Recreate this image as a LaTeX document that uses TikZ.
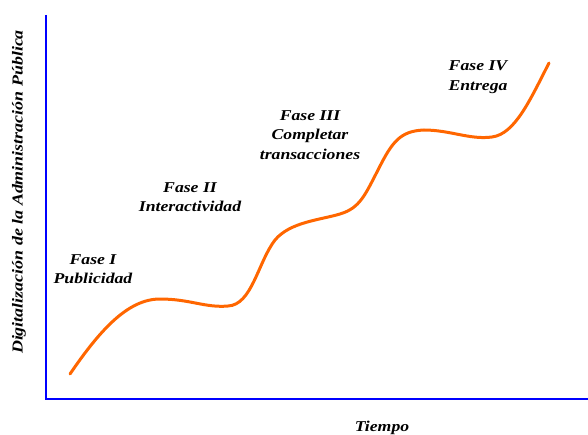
\documentclass[tikz,border=0pt]{standalone}
\usepackage{fontspec}
\setmainfont[FakeStretch=1.18]{Liberation Serif}
\definecolor{curveorange}{RGB}{255,102,0}
\begin{document}
\begin{tikzpicture}[x=1pt,y=-1pt,
  axis/.style={draw=blue,line width=2.8pt,line join=miter},
  curve/.style={draw=curveorange,line width=3pt,line cap=round},
  phase/.style={font=\fontsize{15}{19.5}\selectfont\bfseries\itshape,align=center,inner sep=0pt},
  axislabel/.style={font=\fontsize{15}{16}\selectfont\bfseries\itshape,inner sep=0pt}]
  \useasboundingbox (0,0) rectangle (588,435);
  % axes
  \coordinate (top) at (46,15);
  \coordinate (origin) at (46,399);
  \coordinate (right) at (588,399);
  \draw[axis] (top) -- (origin) -- (right);
  % growth curve in four stages
  \draw[curve] (70,374)
    .. controls (100,330) and (128,299) .. (160,299)
    .. controls (190,299) and (205,308) .. (228,306)
    .. controls (252,305) and (258,262) .. (275,240)
    .. controls (290,222) and (320,220) .. (340,214)
    .. controls (360,208) and (365,195) .. (378,170)
    .. controls (392,142) and (400,131) .. (424,130)
    .. controls (450,130) and (470,140) .. (492,137)
    .. controls (515,134) and (530,100) .. (549,63);
  % phase labels
  \node[phase] (f1) at (93,269) {Fase I\\Publicidad};
  \node[phase] (f2) at (190,197) {Fase II\\Interactividad};
  \node[phase] (f3) at (310,135) {Fase III\\Completar\\transacciones};
  \node[phase] (f4) at (478,77) {Fase IV\\Entrega};
  % axis titles
  \node[axislabel] (xl) at (382,428) {Tiempo};
  \node[axislabel,font=\fontsize{15.2}{16}\selectfont\bfseries\itshape,rotate=90] (yl) at (19,192) {Digitalización de la Administración Pública};
\end{tikzpicture}
\end{document}
